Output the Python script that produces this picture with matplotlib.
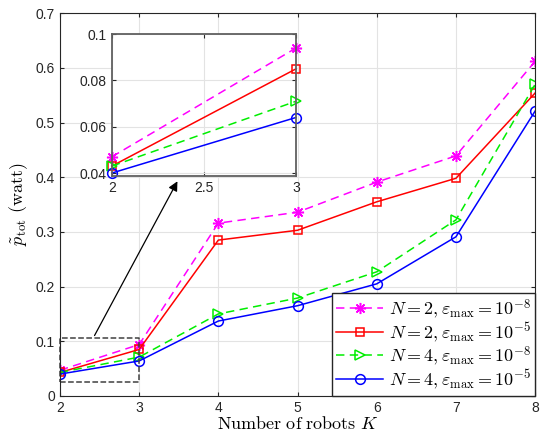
import numpy as np
import matplotlib
matplotlib.use("Agg")
import matplotlib.pyplot as plt

plt.rcParams['font.family'] = ['Liberation Sans', 'DejaVu Sans']
plt.rcParams['mathtext.fontset'] = 'cm'

K = [2, 3, 4, 5, 6, 7, 8]
p_n2_e8 = [0.047, 0.094, 0.316, 0.336, 0.391, 0.439, 0.612]
p_n2_e5 = [0.043, 0.085, 0.285, 0.303, 0.355, 0.398, 0.554]
p_n4_e8 = [0.043, 0.071, 0.150, 0.179, 0.227, 0.322, 0.570]
p_n4_e5 = [0.040, 0.064, 0.137, 0.165, 0.205, 0.291, 0.521]

labels = [r'$N=2,\varepsilon_{\max}=10^{-8}$',
          r'$N=2,\varepsilon_{\max}=10^{-5}$',
          r'$N=4,\varepsilon_{\max}=10^{-8}$',
          r'$N=4,\varepsilon_{\max}=10^{-5}$']

dash = (0, (5.5, 3.5))
styles = [dict(color='#FF00FF', ls=dash, marker=(8, 2, 0), ms=8),
          dict(color='#FF0000', ls='-', marker='s', ms=6, mfc='none'),
          dict(color='#00EE00', ls=dash, marker='>', ms=7, mfc='none'),
          dict(color='#0000FF', ls='-', marker='o', ms=7, mfc='none')]
series = [p_n2_e8, p_n2_e5, p_n4_e8, p_n4_e5]


def style_axes(a):
    a.grid(True, color='#e3e3e3', lw=0.8)
    a.set_axisbelow(True)
    a.tick_params(direction='in', top=True, right=True, labelsize=10,
                  colors='#262626', length=3)
    for s in a.spines.values():
        s.set_color('#262626')


fig = plt.figure(figsize=(5.4, 4.38), dpi=100)
ax = fig.add_axes([0.111, 0.096, 0.880, 0.874])
for y, lab, st in zip(series, labels, styles):
    ax.plot(K, y, label=lab, lw=1.1, mew=1.1, **st)
ax.set_xlim(2, 8)
ax.set_ylim(0, 0.7)
ax.set_xticks(K)
ax.set_yticks(np.arange(0, 0.71, 0.1))
ax.set_yticklabels(['0', '0.1', '0.2', '0.3', '0.4', '0.5', '0.6', '0.7'])
style_axes(ax)
ax.set_xlabel(r'$\mathrm{Number\ of\ robots}\ K$', fontsize=13, labelpad=1)
ax.set_ylabel(r'$\tilde{p}_{\mathrm{tot}}\ \mathrm{(watt)}$', fontsize=13, labelpad=4)

leg = ax.legend(loc='lower right', fontsize=13, fancybox=False, framealpha=1,
                edgecolor='#262626', borderpad=0.25, labelspacing=0.0,
                handlelength=2.6, handletextpad=0.3, borderaxespad=0.0)
leg.get_frame().set_linewidth(1.0)

# zoom box and arrow
ax.plot([2, 3, 3, 2, 2], [0.025, 0.025, 0.106, 0.106, 0.025],
        ls='--', color='#404040', lw=1.1, clip_on=False)
ax.annotate('', xy=(3.5, 0.397), xytext=(2.42, 0.106),
            arrowprops=dict(arrowstyle='-|>', color='black', lw=0.9,
                            mutation_scale=14))

ins = fig.add_axes([0.207, 0.598, 0.341, 0.324])
for y, st in zip(series, styles):
    ins.plot(K[:2], y[:2], lw=1.1, mew=1.1, clip_on=False, **st)
ins.set_xlim(2, 3)
ins.set_ylim(0.0387, 0.1)
ins.set_xticks([2, 2.5, 3])
ins.set_xticklabels(['2', '2.5', '3'])
ins.set_yticks([0.04, 0.06, 0.08, 0.1])
ins.set_yticklabels(['0.04', '0.06', '0.08', '0.1'])
style_axes(ins)
for s in ins.spines.values():
    s.set_color('#606060')
    s.set_linewidth(1.3)

fig.savefig('out.png', dpi=100)
